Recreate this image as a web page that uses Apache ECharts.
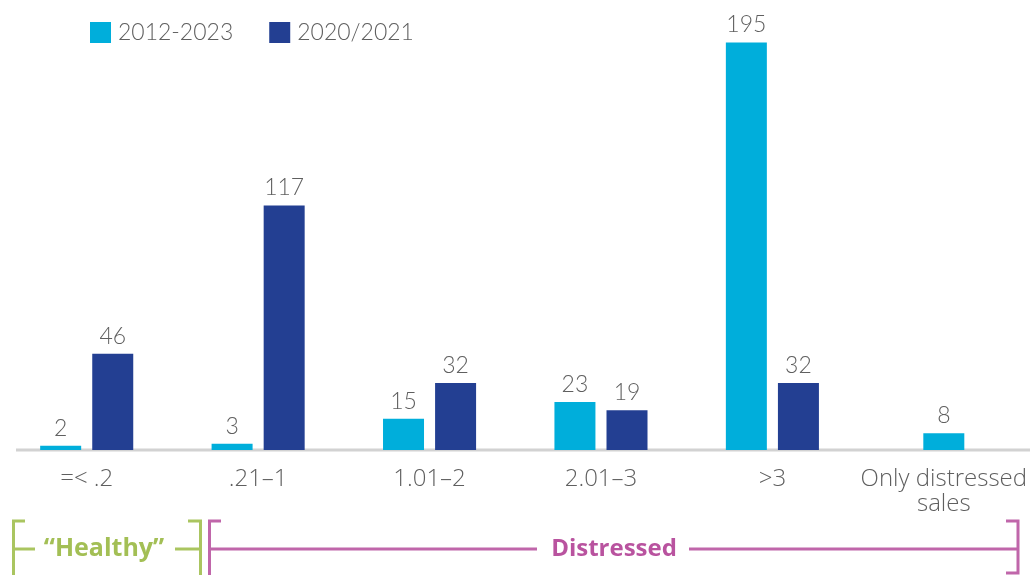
<!DOCTYPE html>
<html>
<head>
<meta charset="utf-8">
<script src="https://cdn.jsdelivr.net/npm/echarts@6/dist/echarts.min.js"></script>
<style>
  html, body { margin: 0; padding: 0; background: #fff; }
  #chart { width: 1030px; height: 575px; }
</style>
</head>
<body>
<div id="chart"></div>
<script>
// Debt ratio buckets
const categories = ['=< .2', '.21\u20131', '1.01\u20132', '2.01\u20133', '>3', 'Only distressed\nsales'];
const seriesNames = ['2012-2023', '2020/2021'];
const longRun = [2, 3, 15, 23, 195, null];
const pandemic = [46, 117, 32, 19, 32, null];
// the last bucket only exists for the long-run series; it is drawn centred in its slot
const distressedOnly = [null, null, null, null, null, 8];

const LIGHT = '#00aedb';
const DARK = '#233f92';
const GREEN = '#aac560';
const PURPLE = '#c066aa';
const FONT = 'Lato, "Open Sans", sans-serif';
const WIDE_FONT = '"Open Sans", Lato, sans-serif';

const chart = echarts.init(document.getElementById('chart'), null, { renderer: 'canvas' });

const valueLabel = {
  show: true,
  position: 'top',
  distance: 6,
  color: '#5f5f5f',
  fontSize: 23,
  fontFamily: FONT,
  fontWeight: 300
};

const gridBottomY = 450;

function line(x1, y1, x2, y2, color) {
  return { type: 'line', shape: { x1, y1, x2, y2 }, style: { stroke: color, lineWidth: 3 }, silent: true };
}
function poly(points, color) {
  return { type: 'polyline', shape: { points }, style: { stroke: color, lineWidth: 3, fill: null }, silent: true };
}

chart.setOption({
  animation: false,
  backgroundColor: '#ffffff',
  legend: {
    data: seriesNames,
    left: 85,
    top: 16,
    itemWidth: 21,
    itemHeight: 21,
    itemGap: 36,
    icon: 'rect',
    textStyle: { color: '#5f5f5f', fontSize: 23, fontFamily: FONT, fontWeight: 300, padding: [0, 0, 0, 2] }
  },
  grid: { left: 1, right: 0, top: 32, bottom: 575 - gridBottomY, containLabel: false },
  xAxis: [
    {
      type: 'category',
      data: categories,
      axisLine: { show: false },
      axisTick: { show: false },
      axisLabel: {
        color: '#5f5f5f',
        fontSize: 24,
        fontFamily: WIDE_FONT,
        fontWeight: 300,
        margin: 17,
        lineHeight: 25,
        interval: 0
      }
    },
    {
      type: 'category',
      data: categories,
      show: false
    }
  ],
  yAxis: {
    type: 'value',
    min: 0,
    max: 200,
    show: false,
    splitLine: { show: false }
  },
  series: [
    {
      name: seriesNames[0],
      type: 'bar',
      data: longRun,
      barWidth: 41,
      barGap: '27%',
      itemStyle: { color: LIGHT },
      label: valueLabel
    },
    {
      name: seriesNames[1],
      type: 'bar',
      data: pandemic,
      barWidth: 41,
      barGap: '27%',
      itemStyle: { color: DARK },
      label: valueLabel
    },
    {
      name: seriesNames[0],
      type: 'bar',
      xAxisIndex: 1,
      data: distressedOnly,
      barWidth: 41,
      itemStyle: { color: LIGHT },
      label: valueLabel
    }
  ],
  graphic: [
    // baseline
    line(16, gridBottomY, 1030, gridBottomY, '#d2d2d2'),
    // "Healthy" bracket
    poly([[25, 521], [13.5, 521], [13.5, 575]], GREEN),
    line(13.5, 549, 35, 549, GREEN),
    line(175, 549, 200, 549, GREEN),
    poly([[188, 521], [200.5, 521], [200.5, 575]], GREEN),
    {
      type: 'text',
      x: 104, y: 549,
      style: { text: '\u201cHealthy\u201d', fill: '#a3bf55', fontSize: 25, fontWeight: 'bold', fontFamily: WIDE_FONT, align: 'center', verticalAlign: 'middle' }
    },
    // "Distressed" bracket
    poly([[221, 521], [209.5, 521], [209.5, 575]], PURPLE),
    line(209.5, 549, 537, 549, PURPLE),
    line(689, 549, 1018, 549, PURPLE),
    poly([[1006, 521], [1018, 521], [1018, 573], [1006, 573]], PURPLE),
    {
      type: 'text',
      x: 614, y: 549,
      style: { text: 'Distressed', fill: '#b9539f', fontSize: 24, fontWeight: 'bold', fontFamily: WIDE_FONT, align: 'center', verticalAlign: 'middle' }
    }
  ]
});
</script>
</body>
</html>
